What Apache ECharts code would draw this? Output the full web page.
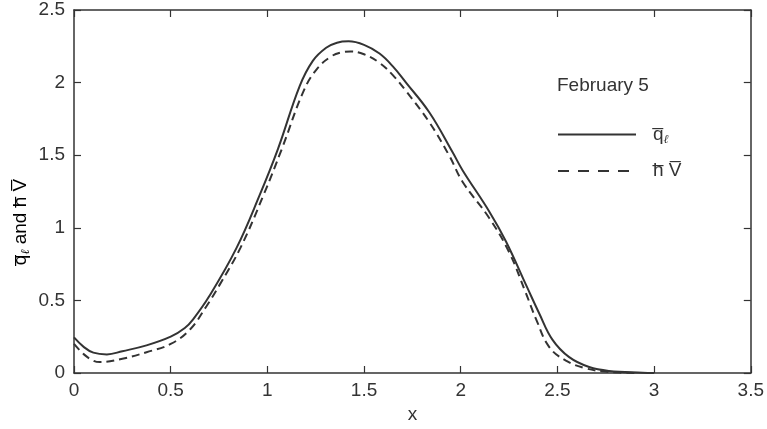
<!DOCTYPE html>
<html>
<head>
<meta charset="utf-8">
<script src="https://cdn.jsdelivr.net/npm/echarts@6/dist/echarts.min.js"></script>
<style>
	html, body { margin: 0; padding: 0; background: #fff; }
	#chart { width: 767px; height: 429px; }
</style>
</head>
<body>
<div id="chart"></div>
<script>
// values (February 5)
var qX = [0, 0.05, 0.1, 0.17, 0.25, 0.375, 0.5, 0.573, 0.616, 0.7, 0.84, 0.96, 1.055, 1.167, 1.235, 1.304, 1.36, 1.42, 1.5, 1.58, 1.65, 1.717, 1.838, 1.958, 2.01, 2.148, 2.234, 2.34, 2.406, 2.474, 2.561, 2.664, 2.767, 2.94, 3.0];
var qY = [0.245, 0.18, 0.14, 0.128, 0.15, 0.19, 0.25, 0.31, 0.37, 0.53, 0.86, 1.225, 1.544, 1.976, 2.15, 2.24, 2.275, 2.284, 2.26, 2.2, 2.11, 2.0, 1.794, 1.52, 1.395, 1.111, 0.906, 0.6, 0.41, 0.23, 0.109, 0.041, 0.014, 0.002, 0];

var hvX = [0, 0.05, 0.1, 0.134, 0.25, 0.375, 0.5, 0.6, 0.685, 0.75, 0.86, 0.98, 1.075, 1.19, 1.26, 1.33, 1.38, 1.43, 1.5, 1.58, 1.65, 1.717, 1.838, 1.94, 2.01, 2.148, 2.251, 2.334, 2.39, 2.457, 2.544, 2.647, 2.733, 2.82, 2.9];
var hvY = [0.2, 0.13, 0.085, 0.075, 0.098, 0.143, 0.2, 0.3, 0.46, 0.6, 0.86, 1.225, 1.544, 1.95, 2.1, 2.18, 2.207, 2.215, 2.195, 2.136, 2.05, 1.942, 1.726, 1.498, 1.316, 1.066, 0.83, 0.56, 0.37, 0.18, 0.085, 0.032, 0.012, 0.003, 0];

var xTicks = [0, 0.5, 1, 1.5, 2, 2.5, 3, 3.5];
var yTicks = [0, 0.5, 1, 1.5, 2, 2.5];
var dateLabel = 'February 5';

function pairs(xs, ys) {
	var out = [];
	for (var i = 0; i < xs.length; i++) {
		out.push([xs[i], ys[i]]);
	}
	return out;
}

var ink = '#333';
var fontFam = '"Liberation Sans", Arial, Helvetica, sans-serif';
var fs = 19;

var richText = {
	gap: { width: 12 },
	base: { fontFamily: fontFam, fontSize: fs, color: ink },
	sub: { fontFamily: 'DejaVu Serif', fontStyle: 'italic', fontSize: 12, color: ink, padding: [10, 0, 0, 0] }
};

function frameAxis(pos, isX) {
	var ax = {
		type: 'value',
		position: pos,
		min: isX ? xTicks[0] : yTicks[0],
		max: isX ? xTicks[xTicks.length - 1] : yTicks[yTicks.length - 1],
		interval: 0.5,
		axisLine: { show: true, onZero: false, lineStyle: { color: ink, width: 1.5 } },
		axisTick: { show: true, inside: true, length: 7, lineStyle: { color: ink, width: 1.2 } },
		axisLabel: { show: false },
		splitLine: { show: false }
	};
	return ax;
}

var chart = echarts.init(document.getElementById('chart'));

var xMain = frameAxis('bottom', true);
xMain.axisLabel = { show: true, margin: 8, color: ink, fontSize: fs, fontFamily: fontFam };
xMain.name = 'x';
xMain.nameLocation = 'middle';
xMain.nameGap = 32;
xMain.nameTextStyle = { color: ink, fontSize: fs, fontFamily: fontFam };

var yMain = frameAxis('left', false);
yMain.axisLabel = { show: true, margin: 9, color: ink, fontSize: fs, fontFamily: fontFam };

var xTop = frameAxis('top', true);
var yRight = frameAxis('right', false);

// legend keeps only the line sample, the marker is made invisible
var noMarker = { color: 'rgba(0,0,0,0)', borderColor: 'rgba(0,0,0,0)', borderWidth: 0 };

var option = {
	backgroundColor: '#fff',
	animation: false,
	grid: { left: 74, right: 15, top: 10, bottom: 53, containLabel: false },
	xAxis: [xMain, xTop],
	yAxis: [yMain, yRight],
	title: {
		text: dateLabel,
		left: 557,
		top: 76,
		padding: 0,
		textStyle: { color: ink, fontSize: fs, fontWeight: 'normal', fontFamily: fontFam }
	},
	legend: {
		orient: 'vertical',
		left: 557,
		top: 125,
		padding: 0,
		itemWidth: 78,
		itemHeight: 14,
		itemGap: 16,
		textStyle: { color: ink, fontSize: fs, fontFamily: fontFam, rich: richText },
		data: [
			{ name: 'q', itemStyle: noMarker, lineStyle: { color: ink, width: 2, type: 'solid' } },
			{ name: 'hV', itemStyle: noMarker, lineStyle: { color: ink, width: 2, type: [11, 9] } }
		],
		formatter: function (name) {
			if (name === 'q') {
				return '{gap|}{base|q\u0305}{sub|\u2113}';
			}
			return '{gap|}{base|h\u0305 V\u0305}';
		}
	},
	graphic: [
		{
			type: 'text',
			x: 21,
			y: 222,
			rotation: Math.PI / 2,
			style: {
				text: '{base|q\u0305}{sub|\u2113}{base| and h\u0305 V\u0305}',
				rich: richText,
				align: 'center',
				verticalAlign: 'middle'
			}
		}
	],
	series: [
		{
			name: 'q',
			type: 'line',
			xAxisIndex: 0,
			yAxisIndex: 0,
			data: pairs(qX, qY),
			smooth: 0.4,
			showSymbol: false,
			symbol: 'none',
			lineStyle: { color: ink, width: 2, type: 'solid' },
			itemStyle: { color: ink }
		},
		{
			name: 'hV',
			type: 'line',
			xAxisIndex: 0,
			yAxisIndex: 0,
			data: pairs(hvX, hvY),
			smooth: 0.4,
			showSymbol: false,
			symbol: 'none',
			lineStyle: { color: ink, width: 2, type: [8, 5] },
			itemStyle: { color: ink }
		}
	]
};

chart.setOption(option);
</script>
</body>
</html>
